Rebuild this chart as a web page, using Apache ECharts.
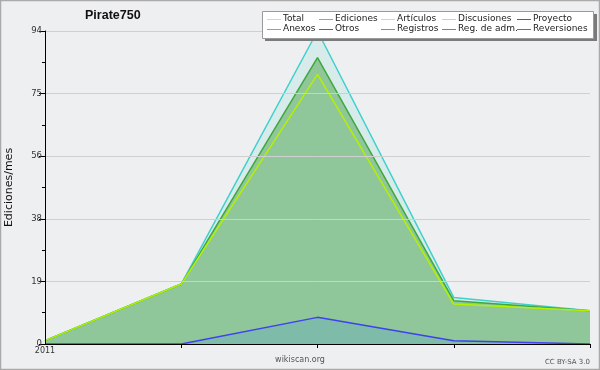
<!DOCTYPE html>
<html>
<head>
<meta charset="utf-8">
<script src="https://cdn.jsdelivr.net/npm/echarts@6/dist/echarts.min.js"></script>
<style>html,body{margin:0;padding:0;background:#eeeff1;}#c{width:600px;height:370px;}</style>
</head>
<body>
<div id="c"></div>
<script>
// ---- data ----
var categories = ["2011-01", "2011-02", "2011-03", "2011-04", "2011-05"];
var xTickLabels = ["2011", "", "", "", ""];
var total = [1, 18, 94, 14, 10];
var ediciones = [1, 18, 86, 13, 10];
var articulos = [1, 18, 81, 12, 10];
var registros = [0, 0, 8, 1, 0];
var yMax = 94;
var yStep = 18.8;
var legendRow1 = ["Total", "Ediciones", "Artículos", "Discusiones", "Proyecto"];
var legendRow2 = ["Anexos", "Otros", "Registros", "Reg. de adm.", "Reversiones"];
var legendColors1 = ["#a8e6e4", "#70c070", "#c4f050", "#f0d060", "#606060"];
var legendColors2 = ["#f08050", "#8040e0", "#8080f0", "#c050e0", "#e04040"];
var titleText = "Pirate750";
var yName = "Ediciones/mes";

var chart = echarts.init(document.getElementById('c'), null, {renderer: 'canvas'});

var legendCols = [267, 319, 381, 442, 517];
var legendGraphics = [
  {type: 'rect', shape: {x: 265, y: 14, width: 332, height: 27}, style: {fill: '#7a7a7a'}, z: 100},
  {type: 'rect', shape: {x: 262.5, y: 11.5, width: 331, height: 27}, style: {fill: '#ffffff', stroke: '#9a9a9a', lineWidth: 1}, z: 101}
];
function addLegendRow(names, colors, yc) {
  names.forEach(function (n, i) {
    legendGraphics.push({type: 'line', shape: {x1: legendCols[i], y1: yc + 0.5, x2: legendCols[i] + 14, y2: yc + 0.5},
      style: {stroke: colors[i], lineWidth: 1}, z: 102});
    legendGraphics.push({type: 'text', x: legendCols[i] + 16, y: yc,
      style: {text: n, fill: '#222', font: '9px "DejaVu Sans"', textVerticalAlign: 'middle', textAlign: 'left'}, z: 102});
  });
}
addLegendRow(legendRow1, legendColors1, 19);
addLegendRow(legendRow2, legendColors2, 29);

var option = {
  backgroundColor: '#eeeff1',
  animation: false,
  title: {
    text: titleText, left: 85, top: 9, padding: 0,
    textStyle: {fontFamily: 'Liberation Sans', fontWeight: 'bold', fontSize: 12.5, color: '#111'}
  },
  grid: {left: 45, right: 10, top: 31, bottom: 26, containLabel: false, outerBoundsMode: 'none'},
  xAxis: {
    type: 'category', data: categories, boundaryGap: false, z: 5,
    axisLine: {lineStyle: {color: '#000', width: 1}},
    axisTick: {show: true, length: 4, interval: function (i) { return i > 0; }, lineStyle: {color: '#000'}},
    axisLabel: {margin: 3, fontFamily: 'DejaVu Sans', fontSize: 8, color: '#333',
      formatter: function (v, i) { return xTickLabels[i]; }},
    splitLine: {show: false}
  },
  yAxis: {
    type: 'value', min: 0, max: yMax, interval: yStep, z: 5,
    name: yName, nameLocation: 'middle', nameRotate: 90, nameGap: 30,
    nameTextStyle: {fontFamily: 'DejaVu Sans', fontSize: 11, color: '#111'},
    axisLine: {show: true, lineStyle: {color: '#000', width: 1}},
    axisTick: {show: true, length: 6, lineStyle: {color: '#000'}},
    minorTick: {show: true, splitNumber: 2, length: 3, lineStyle: {color: '#000'}},
    axisLabel: {margin: 3, fontFamily: 'DejaVu Sans', fontSize: 8.5, color: '#333',
      formatter: function (v) { return String(Math.round(v)); }},
    splitLine: {show: true, lineStyle: {color: '#cfcfcf', width: 1}}
  },
  series: [
    {name: 'Total', type: 'line', data: total, symbol: 'none', lineStyle: {color: '#40d0cc', width: 1.5},
      itemStyle: {color: '#40d0cc'}, areaStyle: {color: 'rgba(64,208,200,0.13)', opacity: 1}},
    {name: 'Ediciones', type: 'line', data: ediciones, symbol: 'none', lineStyle: {color: '#3ea83e', width: 1.5},
      itemStyle: {color: '#3ea83e'}, areaStyle: {color: 'rgba(64,160,64,0.47)', opacity: 1}},
    {name: 'Artículos', type: 'line', data: articulos, symbol: 'none', lineStyle: {color: '#b4f000', width: 1.5},
      itemStyle: {color: '#b4f000'}},
    {name: 'Registros', type: 'line', data: registros, symbol: 'none', lineStyle: {color: '#4040f0', width: 1.5},
      itemStyle: {color: '#4040f0'}, areaStyle: {color: 'rgba(100,170,190,0.4)', opacity: 1}}
  ],
  graphic: legendGraphics.concat([
    {type: 'text', x: 300, y: 360, style: {text: 'wikiscan.org', fill: '#555', font: '8px "DejaVu Sans"', textAlign: 'center', textVerticalAlign: 'middle'}, z: 50},
    {type: 'text', x: 590, y: 362, style: {text: 'CC BY-SA 3.0', fill: '#555', font: '7px "DejaVu Sans"', textAlign: 'right', textVerticalAlign: 'middle'}, z: 50},
    {type: 'rect', shape: {x: 0.5, y: 0.5, width: 599, height: 369}, style: {fill: 'none', stroke: '#aaaaaa', lineWidth: 1.5}, z: 200}
  ])
};
chart.setOption(option);
</script>
</body>
</html>
